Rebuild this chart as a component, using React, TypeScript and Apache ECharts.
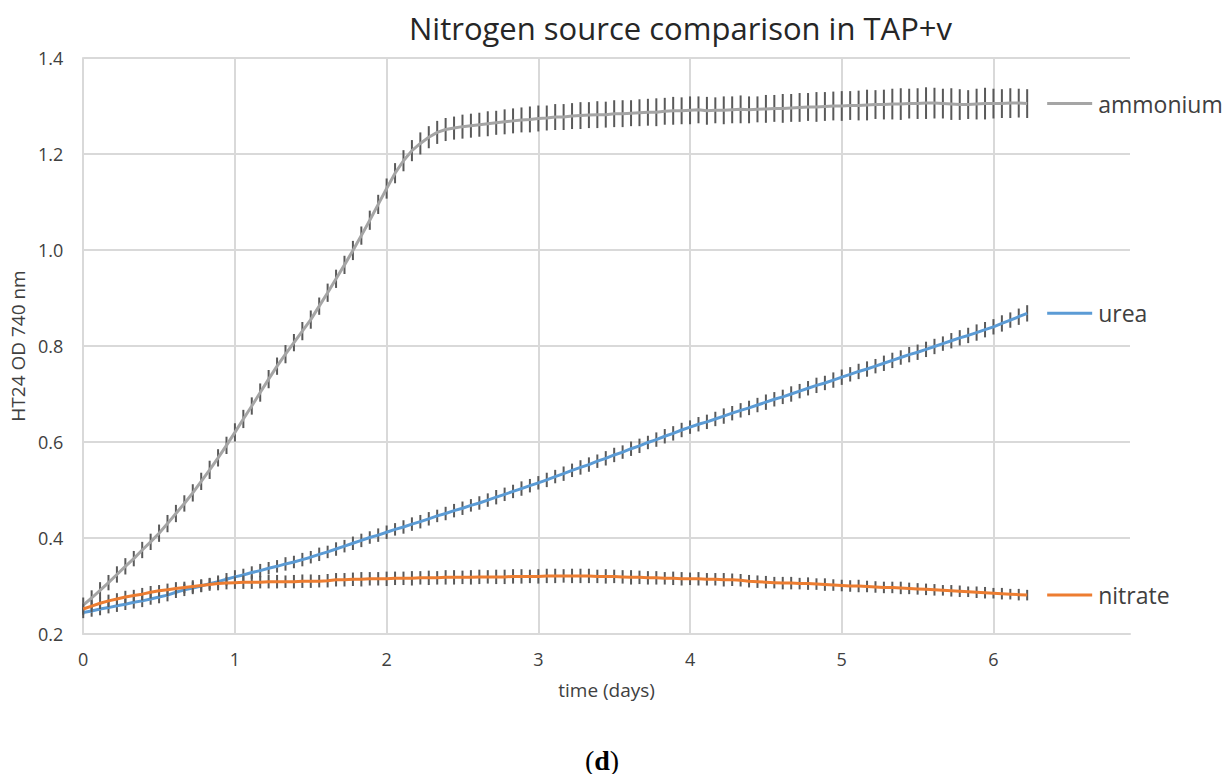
import React, { useEffect, useRef } from "react";
import * as echarts from "echarts";

const TITLE = "Nitrogen source comparison in TAP+v";
const X_NAME = "time (days)";
const Y_NAME = "HT24 OD 740 nm";
const SERIES_NAMES = ["ammonium", "urea", "nitrate"];
const SERIES_COLORS = ["#A5A5A5", "#5B9BD5", "#ED7D31"];
const TIME_STEP_DAYS = 80 / 1440; // one reading every 80 minutes

const AMMONIUM = [
  0.260, 0.275, 0.291, 0.307, 0.324, 0.341, 0.357, 0.375, 0.392, 0.410,
  0.430, 0.451, 0.472, 0.494, 0.518, 0.542, 0.567, 0.593, 0.620, 0.648,
  0.675, 0.703, 0.731, 0.758, 0.783, 0.807, 0.831, 0.855, 0.883, 0.911,
  0.940, 0.969, 0.999, 1.030, 1.062, 1.095, 1.128, 1.160, 1.186, 1.207,
  1.222, 1.235, 1.245, 1.251, 1.254, 1.257, 1.259, 1.261, 1.263, 1.265,
  1.267, 1.269, 1.271, 1.272, 1.274, 1.275, 1.277, 1.277, 1.279, 1.280,
  1.281, 1.282, 1.282, 1.284, 1.284, 1.285, 1.286, 1.287, 1.287, 1.289,
  1.290, 1.290, 1.291, 1.292, 1.290, 1.291, 1.291, 1.292, 1.293, 1.292,
  1.293, 1.294, 1.295, 1.295, 1.296, 1.297, 1.298, 1.298, 1.299, 1.300,
  1.300, 1.301, 1.301, 1.302, 1.303, 1.303, 1.304, 1.304, 1.305, 1.305,
  1.306, 1.306, 1.305, 1.304, 1.303, 1.303, 1.304, 1.305, 1.305, 1.305,
  1.306, 1.306, 1.305,
];
const AMMONIUM_ERR = [
  0.016, 0.016, 0.017, 0.016, 0.017, 0.017, 0.016, 0.017, 0.017, 0.018,
  0.018, 0.018, 0.017, 0.018, 0.018, 0.019, 0.018, 0.018, 0.019, 0.019,
  0.018, 0.019, 0.019, 0.018, 0.019, 0.018, 0.019, 0.019, 0.018, 0.019,
  0.019, 0.019, 0.020, 0.019, 0.020, 0.020, 0.021, 0.021, 0.022, 0.022,
  0.023, 0.023, 0.024, 0.024, 0.024, 0.025, 0.025, 0.025, 0.026, 0.025,
  0.026, 0.026, 0.026, 0.027, 0.027, 0.026, 0.027, 0.027, 0.027, 0.028,
  0.027, 0.028, 0.027, 0.028, 0.028, 0.027, 0.028, 0.028, 0.029, 0.028,
  0.029, 0.028, 0.029, 0.028, 0.029, 0.027, 0.029, 0.028, 0.029, 0.028,
  0.027, 0.029, 0.028, 0.030, 0.029, 0.030, 0.029, 0.031, 0.030, 0.030,
  0.031, 0.030, 0.031, 0.032, 0.030, 0.031, 0.032, 0.033, 0.031, 0.032,
  0.033, 0.032, 0.031, 0.033, 0.032, 0.030, 0.032, 0.033, 0.031, 0.030,
  0.031, 0.030, 0.030,
];
const UREA = [
  0.245, 0.248, 0.252, 0.255, 0.259, 0.262, 0.266, 0.269, 0.273, 0.277,
  0.281, 0.287, 0.292, 0.296, 0.300, 0.305, 0.309, 0.314, 0.319, 0.323,
  0.328, 0.332, 0.337, 0.341, 0.346, 0.350, 0.355, 0.360, 0.366, 0.371,
  0.377, 0.383, 0.389, 0.395, 0.401, 0.406, 0.412, 0.418, 0.423, 0.429,
  0.434, 0.440, 0.446, 0.451, 0.457, 0.462, 0.468, 0.473, 0.479, 0.485,
  0.491, 0.497, 0.503, 0.509, 0.515, 0.521, 0.528, 0.534, 0.541, 0.547,
  0.553, 0.560, 0.566, 0.573, 0.579, 0.586, 0.592, 0.599, 0.605, 0.612,
  0.618, 0.625, 0.631, 0.637, 0.642, 0.648, 0.654, 0.660, 0.666, 0.671,
  0.677, 0.683, 0.689, 0.694, 0.700, 0.706, 0.712, 0.718, 0.723, 0.729,
  0.735, 0.741, 0.747, 0.752, 0.758, 0.764, 0.770, 0.776, 0.782, 0.787,
  0.793, 0.799, 0.805, 0.811, 0.817, 0.822, 0.828, 0.834, 0.840, 0.847,
  0.854, 0.861, 0.868,
];
const UREA_ERR = [
  0.012, 0.012, 0.013, 0.012, 0.013, 0.012, 0.013, 0.013, 0.012, 0.013,
  0.013, 0.012, 0.013, 0.013, 0.013, 0.012, 0.013, 0.013, 0.014, 0.013,
  0.013, 0.014, 0.013, 0.013, 0.014, 0.013, 0.014, 0.013, 0.014, 0.013,
  0.014, 0.013, 0.014, 0.014, 0.013, 0.014, 0.014, 0.013, 0.014, 0.014,
  0.014, 0.014, 0.013, 0.014, 0.014, 0.014, 0.013, 0.014, 0.014, 0.015,
  0.014, 0.014, 0.015, 0.014, 0.014, 0.015, 0.014, 0.015, 0.014, 0.015,
  0.015, 0.014, 0.015, 0.015, 0.014, 0.015, 0.015, 0.014, 0.015, 0.015,
  0.015, 0.015, 0.014, 0.015, 0.015, 0.015, 0.016, 0.015, 0.015, 0.015,
  0.015, 0.016, 0.015, 0.015, 0.016, 0.015, 0.015, 0.016, 0.015, 0.016,
  0.016, 0.015, 0.016, 0.016, 0.015, 0.016, 0.016, 0.015, 0.016, 0.016,
  0.016, 0.016, 0.015, 0.016, 0.016, 0.016, 0.017, 0.016, 0.016, 0.017,
  0.016, 0.017, 0.017,
];
const NITRATE = [
  0.252, 0.258, 0.264, 0.269, 0.273, 0.277, 0.280, 0.283, 0.287, 0.290,
  0.292, 0.295, 0.297, 0.299, 0.301, 0.303, 0.305, 0.306, 0.307, 0.308,
  0.308, 0.308, 0.309, 0.309, 0.309, 0.309, 0.310, 0.310, 0.310, 0.311,
  0.313, 0.313, 0.314, 0.314, 0.315, 0.315, 0.315, 0.316, 0.316, 0.316,
  0.317, 0.317, 0.317, 0.318, 0.318, 0.318, 0.318, 0.319, 0.319, 0.319,
  0.319, 0.320, 0.320, 0.320, 0.320, 0.321, 0.321, 0.321, 0.321, 0.321,
  0.321, 0.320, 0.320, 0.320, 0.319, 0.318, 0.318, 0.317, 0.317, 0.316,
  0.316, 0.315, 0.315, 0.315, 0.314, 0.314, 0.313, 0.313, 0.312, 0.310,
  0.309, 0.308, 0.307, 0.306, 0.306, 0.305, 0.305, 0.304, 0.303, 0.302,
  0.301, 0.300, 0.300, 0.299, 0.298, 0.297, 0.297, 0.296, 0.295, 0.294,
  0.293, 0.292, 0.291, 0.290, 0.289, 0.288, 0.287, 0.286, 0.285, 0.284,
  0.283, 0.282, 0.281,
];
const NITRATE_ERR = [
  0.012, 0.012, 0.012, 0.013, 0.012, 0.013, 0.012, 0.013, 0.013, 0.012,
  0.013, 0.013, 0.012, 0.013, 0.013, 0.013, 0.014, 0.013, 0.013, 0.014,
  0.014, 0.013, 0.014, 0.014, 0.013, 0.014, 0.014, 0.014, 0.013, 0.014,
  0.014, 0.014, 0.014, 0.015, 0.014, 0.014, 0.015, 0.014, 0.014, 0.015,
  0.014, 0.015, 0.014, 0.015, 0.015, 0.014, 0.015, 0.015, 0.014, 0.015,
  0.015, 0.015, 0.015, 0.014, 0.015, 0.015, 0.015, 0.014, 0.015, 0.015,
  0.015, 0.014, 0.015, 0.014, 0.014, 0.015, 0.014, 0.014, 0.014, 0.013,
  0.014, 0.014, 0.013, 0.014, 0.013, 0.013, 0.014, 0.013, 0.013, 0.013,
  0.013, 0.013, 0.012, 0.013, 0.013, 0.012, 0.013, 0.012, 0.013, 0.012,
  0.012, 0.012, 0.013, 0.012, 0.012, 0.012, 0.012, 0.013, 0.012, 0.012,
  0.012, 0.012, 0.011, 0.012, 0.012, 0.011, 0.012, 0.012, 0.011, 0.012,
  0.011, 0.012, 0.011,
];

const X_MIN = 0;
const X_MAX = 6.9;
const X_INTERVAL = 1;
const Y_MIN = 0.2;
const Y_MAX = 1.4;
const Y_INTERVAL = 0.2;

const FONT = "'Open Sans', 'Noto Sans', sans-serif";

export default function App() {
  const ref = useRef<HTMLDivElement>(null);

  useEffect(() => {
    document.body.style.margin = "0";
    if (!ref.current) return;
    const chart = echarts.init(ref.current, null, { renderer: "svg" });

    const values = [AMMONIUM, UREA, NITRATE];
    const errors = [AMMONIUM_ERR, UREA_ERR, NITRATE_ERR];
    const times = AMMONIUM.map((_, i) => +(i * TIME_STEP_DAYS).toFixed(5));

    const series: any[] = [];
    values.forEach((vals, s) => {
      series.push({
        type: "custom",
        name: SERIES_NAMES[s] + " error",
        z: 2 + s * 2,
        silent: true,
        data: vals.map((v, i) => [times[i], v, errors[s][i]]),
        encode: { x: 0, y: 1 },
        renderItem: (params: any, api: any) => {
          const x = api.value(0);
          const y = api.value(1);
          const e = api.value(2);
          const p1 = api.coord([x, y + e]);
          const p2 = api.coord([x, y - e]);
          return {
            type: "line",
            shape: { x1: p1[0], y1: p1[1], x2: p2[0], y2: p2[1] },
            style: { stroke: "#595959", lineWidth: 2 },
          };
        },
      });
      series.push({
        type: "line",
        name: SERIES_NAMES[s],
        z: 3 + s * 2,
        data: vals.map((v, i) => [times[i], v]),
        showSymbol: false,
        symbol: "none",
        lineStyle: { color: SERIES_COLORS[s], width: 3 },
        itemStyle: { color: SERIES_COLORS[s] },
        endLabel: {
          show: true,
          distance: 20,
          formatter: "{l|}{t|" + SERIES_NAMES[s] + "}",
          rich: {
            l: {
              width: 45,
              height: 3,
              backgroundColor: SERIES_COLORS[s],
              verticalAlign: "middle",
            },
            t: {
              fontFamily: FONT,
              fontSize: 23,
              color: "#404040",
              padding: [0, 0, 0, 6],
              verticalAlign: "middle",
            },
          },
        },
      });
    });

    chart.setOption({
      animation: false,
      backgroundColor: "#ffffff",
      title: {
        text: TITLE,
        left: 404,
        top: 7,
        textStyle: { fontFamily: FONT, fontSize: 31, fontWeight: "normal", color: "#262626" },
      },
      grid: { left: 83, right: 101, top: 58, bottom: 140, containLabel: false },
      xAxis: {
        type: "value",
        min: X_MIN,
        max: X_MAX,
        interval: X_INTERVAL,
        name: X_NAME,
        nameLocation: "middle",
        nameGap: 46,
        nameTextStyle: { fontFamily: FONT, fontSize: 19, color: "#404040" },
        axisLine: { show: true, lineStyle: { color: "#d9d9d9", width: 2 } },
        axisTick: { show: false },
        axisLabel: {
          fontFamily: FONT,
          fontSize: 18,
          color: "#404040",
          margin: 16,
          showMaxLabel: false,
          formatter: (v: number) => (Number.isInteger(v) ? String(v) : ""),
        },
        splitLine: { show: true, showMaxLine: false, lineStyle: { color: "#d9d9d9", width: 2 } },
      },
      yAxis: {
        type: "value",
        min: Y_MIN,
        max: Y_MAX,
        interval: Y_INTERVAL,
        name: Y_NAME,
        nameLocation: "middle",
        nameGap: 55,
        nameTextStyle: { fontFamily: FONT, fontSize: 19, color: "#404040" },
        axisLine: { show: true, lineStyle: { color: "#d9d9d9", width: 2 } },
        axisTick: { show: false },
        axisLabel: {
          fontFamily: FONT,
          fontSize: 18,
          color: "#404040",
          margin: 20,
          formatter: (v: number) => v.toFixed(1),
        },
        splitLine: { show: true, lineStyle: { color: "#d9d9d9", width: 2 } },
      },
      graphic: [
        {
          type: "text",
          x: 602,
          y: 760,
          style: {
            text: "{p|(}{b|d}{p|)}",
            textAlign: "center",
            textVerticalAlign: "middle",
            rich: {
              p: { fontFamily: "'Liberation Serif', serif", fontSize: 28, fill: "#000" },
              b: { fontFamily: "'Liberation Serif', serif", fontSize: 28, fontWeight: "bold", fill: "#000" },
            },
          },
        },
      ],
      series,
    });

    return () => chart.dispose();
  }, []);

  return <div ref={ref} style={{ width: 1231, height: 774 }} />;
}
